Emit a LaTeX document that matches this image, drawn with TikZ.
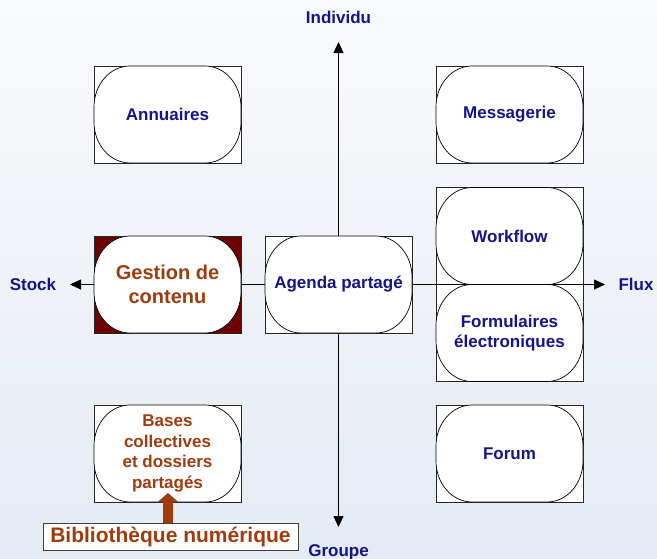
\documentclass[tikz,border=0pt]{standalone}
\usepackage{fontspec}
\setmainfont{Liberation Sans}
\usetikzlibrary{arrows.meta}
\definecolor{navy}{RGB}{20,20,140}
\definecolor{brn}{RGB}{160,60,12}
\definecolor{dred}{RGB}{110,0,0}
\definecolor{bgtop}{RGB}{249,250,252}
\definecolor{bgbot}{RGB}{228,235,243}
\newcommand\pillshape[1]{\filldraw[pillline] #1 ++(-37.5pt,48.5pt) -- ++(75pt,0pt)
  arc[start angle=90,end angle=0,x radius=36pt,y radius=41pt] -- ++(0pt,-15pt)
  arc[start angle=0,end angle=-90,x radius=36pt,y radius=41pt] -- ++(-75pt,0pt)
  arc[start angle=270,end angle=180,x radius=36pt,y radius=41pt] -- ++(0pt,15pt)
  arc[start angle=180,end angle=90,x radius=36pt,y radius=41pt] -- cycle;}
\begin{document}
\begin{tikzpicture}[x=1pt,y=-1pt,
  outer/.style={draw=black!85, line width=0.8pt, fill=white, minimum width=147pt, minimum height=97pt, inner sep=0pt},
  pillline/.style={draw=black, line width=0.7pt, fill=white},
  txt/.style={inner sep=0pt, font=\bfseries\fontsize{17}{20.5}\selectfont, text=navy, align=center},
  lbl/.style={font=\bfseries\fontsize{17}{20}\selectfont, text=navy, inner sep=0pt},
  axis/.style={draw=black, line width=0.9pt, -{Triangle[length=11pt,width=10pt]}}
]
\shade[top color=bgtop, bottom color=bgbot] (0,0) rectangle (657,558);
\useasboundingbox (0,0) rectangle (657,558);

% axis end points
\coordinate (ctr) at (338.5,284.5);
\coordinate (top) at (338.5,42);
\coordinate (bot) at (338.5,527);
\coordinate (left) at (70,284.5);
\coordinate (right) at (605,284.5);
\draw[axis] (ctr) -- (top);
\draw[axis] (ctr) -- (bot);
\draw[axis] (ctr) -- (left);
\draw[axis] (ctr) -- (right);

% labels
\node[lbl] (individu) at (338.5,17) {Individu};
\node[lbl] (groupe) at (338.5,552) {Groupe};
\node[lbl] (stock) at (33,284.5) {Stock};
\node[lbl] (flux) at (636,284.5) {Flux};

% boxes
\node[outer] (annB) at (167.5,114.5) {};
\pillshape{(annB)}
\node[txt] (ann) at (annB) {Annuaires};

\node[outer] (mesB) at (509.5,114.5) {};
\pillshape{(mesB)}
\node[txt] (mes) at (mesB) {Messagerie};

\node[outer, fill=dred] (gesB) at (167.5,284.5) {};
\pillshape{(gesB)}
\node[txt, text=brn, font=\bfseries\fontsize{20}{24}\selectfont] (ges) at (gesB) {Gestion de\\contenu};

\node[outer] (ageB) at (338.5,284.5) {};
\pillshape{(ageB)}
\node[txt] (age) at (ageB) {Agenda partagé};

\node[outer, minimum height=194pt] (wfB) at (509.5,284.5) {};
\coordinate (wfc) at (509.5,236);
\coordinate (fmc) at (509.5,333);
\pillshape{(wfc)}
\pillshape{(fmc)}
\node[txt] (wf) at (wfc) {Workflow};
\node[txt] (form) at (fmc) {Formulaires\\électroniques};
\draw[line width=0.9pt] (wfB.west) -- (wfB.east);

\node[outer] (basB) at (167.5,453.5) {};
\pillshape{(basB)}
\node[txt, text=brn] (bas) at (basB) {Bases\\collectives\\et dossiers\\partagés};

\node[outer] (forB) at (509.5,453.5) {};
\pillshape{(forB)}
\node[txt] (for) at (forB) {Forum};

% bibliotheque
\node[draw=black!75, line width=0.8pt, fill=white, minimum width=255pt, minimum height=27pt, inner sep=0pt,
  font=\bfseries\fontsize{21}{24}\selectfont, text=brn] (bib) at (170.5,536.5) {Bibliothèque numérique};
\coordinate (btip) at (168,493);
\draw[brn, line width=10pt, -{Triangle[length=9pt,width=20pt]}] (bib.north -| btip) -- (btip);
\end{tikzpicture}
\end{document}
